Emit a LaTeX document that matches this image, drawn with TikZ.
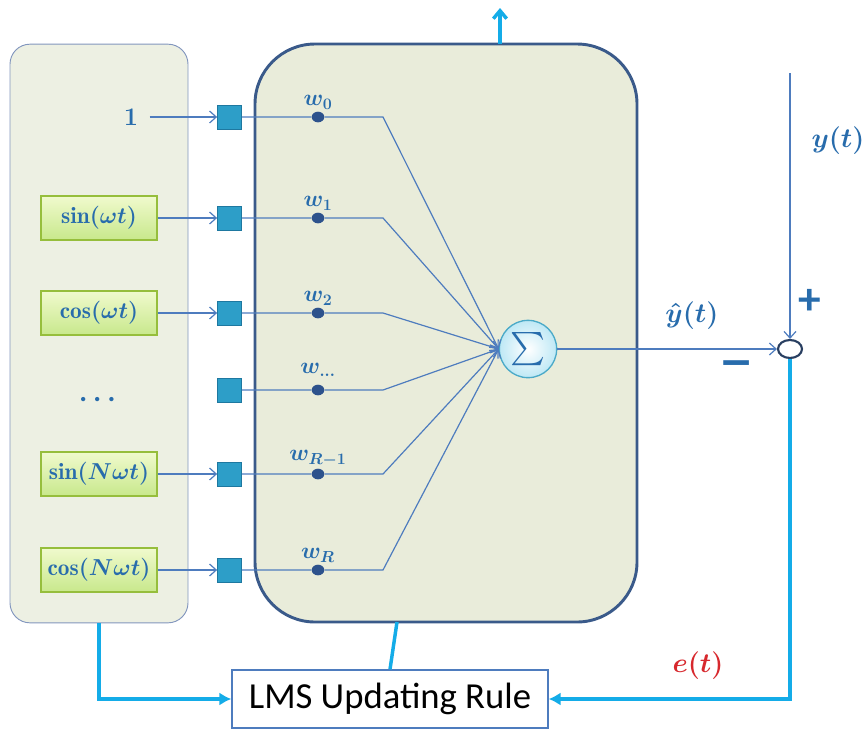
\documentclass[tikz,border=0pt]{standalone}
\usepackage{fontspec}
\usepackage{amsmath}
\newfontfamily\lmsfont{Carlito}
\usetikzlibrary{arrows.meta,calc,positioning,shapes.geometric}
\definecolor{wireblue}{RGB}{78,124,190}
\definecolor{fbblue}{RGB}{20,172,232}
\definecolor{labblue}{RGB}{40,108,172}
\definecolor{coreedge}{RGB}{58,90,138}
\definecolor{corefill}{RGB}{233,236,218}
\definecolor{panelfill}{RGB}{237,240,227}
\definecolor{paneledge}{RGB}{130,150,190}
\definecolor{basistop}{RGB}{240,250,205}
\definecolor{basisbot}{RGB}{200,232,140}
\definecolor{basisedge}{RGB}{150,190,60}
\definecolor{tapfill}{RGB}{45,158,200}
\definecolor{tapedge}{RGB}{30,120,160}
\definecolor{dotblue}{RGB}{45,82,140}
\definecolor{sigfill}{RGB}{190,232,245}
\definecolor{sigedge}{RGB}{75,170,200}
\definecolor{errred}{RGB}{215,40,45}
\begin{document}
\begin{tikzpicture}[x=0.75pt,y=-0.75pt,>=Latex,
  wire/.style={draw=wireblue,line width=0.9pt},
  barb/.style={-{Straight Barb[length=5pt,width=9pt]}},
  fb/.style={draw=fbblue,line width=2.6pt},
  panel/.style={rectangle,rounded corners=15pt,fill=panelfill,draw=paneledge,line width=0.7pt,minimum width=133.5pt,minimum height=434pt},
  core/.style={rectangle,rounded corners=45pt,fill=corefill,draw=coreedge,line width=2.2pt,minimum width=286.5pt,minimum height=433.5pt},
  basis/.style={rectangle,draw=basisedge,line width=1pt,top color=basistop,bottom color=basisbot,minimum width=87pt,minimum height=33pt,inner sep=0pt,text=labblue,font=\fontsize{17.5}{20}\selectfont\boldmath},
  tap/.style={rectangle,fill=tapfill,draw=tapedge,line width=0.6pt,minimum size=18pt,inner sep=0pt},
  wdot/.style={ellipse,fill=dotblue,minimum width=9.5pt,minimum height=8pt,inner sep=0pt},
  wlab/.style={text=labblue,font=\fontsize{17.5}{18}\selectfont\boldmath,inner sep=1.5pt},
  siglab/.style={text=labblue,font=\fontsize{22}{24}\selectfont\boldmath},
  sign/.style={text=labblue,font=\lmsfont\bfseries\fontsize{34}{36}\selectfont},
  sumnode/.style={circle,draw=sigedge,line width=1pt,inner color=white,outer color=sigfill,minimum size=43pt,inner sep=0pt,text=labblue,font=\fontsize{24}{24}\selectfont},
  junction/.style={ellipse,draw=coreedge!70!black,fill=white,line width=1.6pt,minimum width=18pt,minimum height=13.5pt,inner sep=0pt},
  rulebox/.style={rectangle,draw=wireblue,line width=1pt,fill=white,minimum width=237pt,minimum height=43.5pt,font=\lmsfont\fontsize{27.5}{30}\selectfont}]
\useasboundingbox (0,0) rectangle (866,729);
\node[panel] (basisbox) at (99,333.5) {};
\node[core] (combiner) at (446,333) {};
\node[text=labblue,font=\fontsize{19}{20}\selectfont\bfseries] (one) at (131,117) {1};
\node[basis] (b1) at (99,218) {$\sin(\omega t)$};
\node[basis] (b2) at (99,313) {$\cos(\omega t)$};
\node[text=labblue,font=\fontsize{20}{22}\selectfont\boldmath] (gap) at (100,400) {$\cdots$};
\node[basis] (b4) at (99,474) {$\sin(N\omega t)$};
\node[basis] (b5) at (99,570) {$\cos(N\omega t)$};
\node[tap] (t0) at (229.5,117) {};
\node[tap] (t1) at (229.5,218) {};
\node[tap] (t2) at (229.5,313) {};
\node[tap] (t3) at (229.5,390) {};
\node[tap] (t4) at (229.5,474) {};
\node[tap] (t5) at (229.5,570) {};
\node[wdot,label={[wlab]above:$w_0$}] (d0) at (318,117) {};
\node[wdot,label={[wlab]above:$w_1$}] (d1) at (318,218) {};
\node[wdot,label={[wlab]above:$w_2$}] (d2) at (318,313) {};
\node[wdot,label={[wlab,yshift=4pt]above:$w_{\dots}$}] (d3) at (318,390) {};
\node[wdot,label={[wlab]above:$w_{R-1}$}] (d4) at (318,474) {};
\node[wdot,label={[wlab]above:$w_R$}] (d5) at (318,570) {};
\coordinate (k0) at (383,117);
\coordinate (k1) at (383,218);
\coordinate (k2) at (383,313);
\coordinate (k3) at (383,390);
\coordinate (k4) at (383,474);
\coordinate (k5) at (383,570);
\node[sumnode] (sig) at (528,349) {$\sum$};
\node[junction] (diff) at (790,349) {};
\node[rulebox] (lms) at (390,699) {LMS Updating Rule};
\coordinate (ytop) at (790,73);
\coordinate (cbot) at (397,622);
\coordinate (ctop) at (500,44);
\coordinate (cout) at (500,8);
\node[siglab] (yhat) at (692,316) {$\hat{y}(t)$};
\node[siglab] (ylab) at (838,141) {$y(t)$};
\node[sign] (plus) at (810,302) {+};
\node[sign] (minus) at (737,370) {\scalebox{1.6}[1.2]{–}};
\node[siglab,text=errred] (err) at (698,666) {$e(t)$};
\draw[wire,barb,shorten <=5pt] (one) -- (t0);
\draw[wire,barb] (b1) -- (t1);
\draw[wire,barb] (b2) -- (t2);
\draw[wire,barb] (b4) -- (t4);
\draw[wire,barb] (b5) -- (t5);
\draw[wire,barb] (t0) -- (d0) -- (k0) -- (sig.west);
\draw[wire,barb] (t1) -- (d1) -- (k1) -- (sig.west);
\draw[wire,barb] (t2) -- (d2) -- (k2) -- (sig.west);
\draw[wire,barb] (t3) -- (d3) -- (k3) -- (sig.west);
\draw[wire,barb] (t4) -- (d4) -- (k4) -- (sig.west);
\draw[wire,barb] (t5) -- (d5) -- (k5) -- (sig.west);
\draw[wire,barb] (sig) -- (diff);
\draw[wire,barb] (ytop) -- (diff);
\draw[fb,-{Latex[length=9pt,width=10pt]}] (diff) |- (lms);
\draw[fb,-{Latex[length=9pt,width=10pt]}] (basisbox) |- (lms);
\draw[fb] (cbot) -- (lms.north);
\draw[fb,-{Straight Barb[length=6pt,width=10pt]}] (ctop) -- (cout);
\end{tikzpicture}
\end{document}
